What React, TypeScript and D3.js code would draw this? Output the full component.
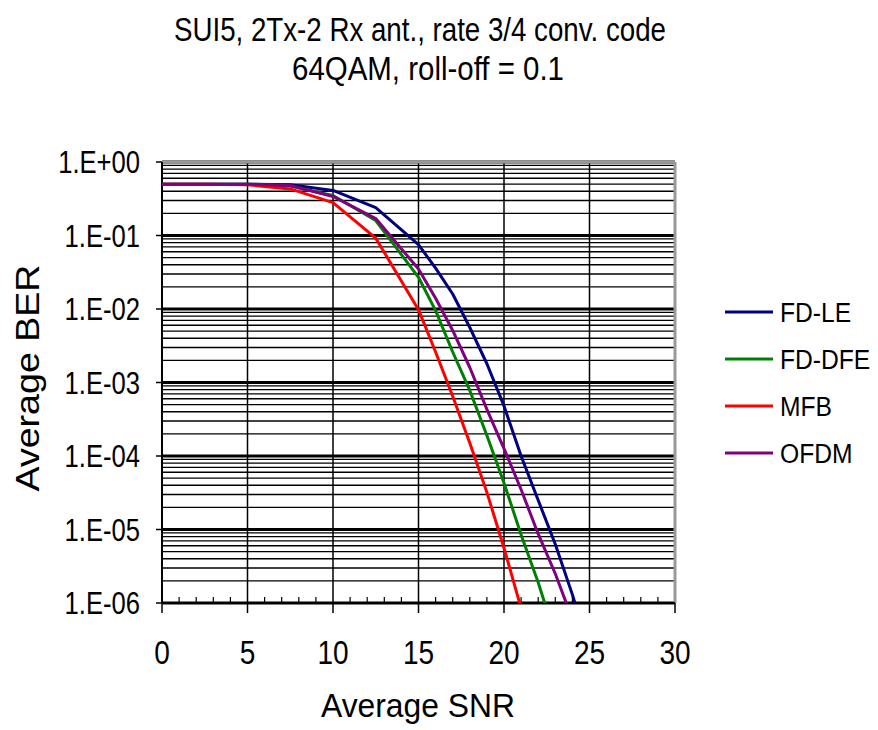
import React from 'react';
import * as d3 from 'd3';

const title1 = 'SUI5, 2Tx-2 Rx ant., rate 3/4 conv. code';
const title2 = '64QAM, roll-off = 0.1';
const xTitle = 'Average SNR';
const yTitle = 'Average BER';

const xTicks = [0, 5, 10, 15, 20, 25, 30];
const yTicks = [1, 1e-1, 1e-2, 1e-3, 1e-4, 1e-5, 1e-6];
const yTickLabels = ['1.E+00', '1.E-01', '1.E-02', '1.E-03', '1.E-04', '1.E-05', '1.E-06'];

const snrLE = [0, 2.5, 5, 7.5, 10, 12.5, 15, 16, 17, 18, 19, 20, 21, 22, 23, 24, 25];
const berLE = [0.5, 0.5, 0.5, 0.49, 0.41, 0.24, 0.075, 0.036, 0.016, 5.6e-3, 1.8e-3, 4.8e-4, 1.0e-4, 2.5e-5, 6.3e-6, 1.3e-6, 2.2e-7];

const snrDFE = [0, 2.5, 5, 7.5, 10, 12.5, 15, 16, 17, 18, 19, 20, 21, 22, 23];
const berDFE = [0.5, 0.5, 0.5, 0.47, 0.35, 0.16, 0.027, 9.5e-3, 2.6e-3, 7.8e-4, 1.9e-4, 4.3e-5, 8.5e-6, 1.9e-6, 3.5e-7];

const snrMFB = [0, 2.5, 5, 7.5, 10, 12.5, 15, 16, 17, 18, 19, 20, 21];
const berMFB = [0.5, 0.5, 0.49, 0.43, 0.28, 0.092, 0.0098, 2.6e-3, 6.5e-4, 1.5e-4, 3.2e-5, 5.6e-6, 8.5e-7];

const snrOFDM = [0, 2.5, 5, 7.5, 10, 12.5, 15, 16, 17, 18, 19, 20, 21, 22, 23, 24];
const berOFDM = [0.5, 0.5, 0.5, 0.48, 0.34, 0.17, 0.035, 0.014, 5.1e-3, 1.6e-3, 4.3e-4, 1.26e-4, 3.5e-5, 8.7e-6, 2.5e-6, 6e-7];

const seriesNames = ['FD-LE', 'FD-DFE', 'MFB', 'OFDM'];
const seriesColors = ['#000080', '#008000', '#ff0000', '#800080'];
const seriesX = [snrLE, snrDFE, snrMFB, snrOFDM];
const seriesY = [berLE, berDFE, berMFB, berOFDM];

const font = 'Liberation Sans, Arial, sans-serif';

export default function App() {
  const left = 162, right = 675, top = 162, bottom = 603;
  const x = d3.scaleLinear().domain([0, 30]).range([left, right]);
  const y = d3.scaleLog().domain([1e-6, 1]).range([bottom, top]);

  const line = d3.line<[number, number]>()
    .x(d => x(d[0]))
    .y(d => y(d[1]));

  const isDecade = (v: number) => Math.abs(Math.log10(v) - Math.round(Math.log10(v))) < 1e-9;
  const hLines = y.ticks();
  const minorX = d3.range(1, 30).filter(v => v % 5 !== 0);

  return (
    <svg width={878} height={730} style={{ position: 'absolute', left: 0, top: 0, background: '#fff' }}>
      <defs>
        <clipPath id="plot">
          <rect x={left} y={top} width={right - left} height={bottom - top} />
        </clipPath>
      </defs>

      <text x={420} y={41} textAnchor="middle" fontFamily={font} fontSize={34}
        textLength={492} lengthAdjust="spacingAndGlyphs">{title1}</text>
      <text x={428} y={80} textAnchor="middle" fontFamily={font} fontSize={34}
        textLength={272} lengthAdjust="spacingAndGlyphs">{title2}</text>

      {/* horizontal grid */}
      {hLines.map((v, i) => (
        <line key={'h' + i} x1={left} x2={right} y1={y(v)} y2={y(v)}
          stroke="#000" strokeWidth={isDecade(v) ? 3 : 1.4} />
      ))}
      {/* vertical grid */}
      {xTicks.slice(1, -1).map(v => (
        <line key={'v' + v} x1={x(v)} x2={x(v)} y1={top} y2={bottom} stroke="#000" strokeWidth={1.5} />
      ))}

      {/* borders */}
      <line x1={left} x2={right} y1={top} y2={top} stroke="#999" strokeWidth={3} />
      <line x1={right} x2={right} y1={top} y2={bottom} stroke="#999" strokeWidth={3} />
      <line x1={left} x2={left} y1={top} y2={bottom} stroke="#000" strokeWidth={2} />
      <line x1={left} x2={right} y1={bottom} y2={bottom} stroke="#000" strokeWidth={2} />

      {/* x ticks */}
      {xTicks.map(v => (
        <line key={'xt' + v} x1={x(v)} x2={x(v)} y1={bottom} y2={bottom + 10} stroke="#000" strokeWidth={1.5} />
      ))}
      {minorX.map(v => (
        <line key={'xm' + v} x1={x(v)} x2={x(v)} y1={bottom - 6} y2={bottom} stroke="#000" strokeWidth={1.2} />
      ))}
      {xTicks.map(v => (
        <g key={'xl' + v} transform={`translate(${x(v)},664) scale(0.85,1)`}>
          <text textAnchor="middle" fontFamily={font} fontSize={33}>{v}</text>
        </g>
      ))}

      {/* y ticks */}
      {yTicks.map((v, i) => (
        <g key={'yl' + i}>
          <line x1={left - 6} x2={left} y1={y(v)} y2={y(v)} stroke="#000" strokeWidth={1.5} />
          <g transform={`translate(140,${y(v) + 11}) scale(0.8,1)`}>
            <text textAnchor="end" fontFamily={font} fontSize={32}>{yTickLabels[i]}</text>
          </g>
        </g>
      ))}

      {/* curves */}
      <g clipPath="url(#plot)">
        {seriesNames.map((name, i) => (
          <path key={name}
            d={line(seriesX[i].map((s, j) => [s, seriesY[i][j]] as [number, number])) || ''}
            fill="none" stroke={seriesColors[i]} strokeWidth={3} strokeLinejoin="round" />
        ))}
      </g>

      {/* axis titles */}
      <text x={418} y={717} textAnchor="middle" fontFamily={font} fontSize={34}
        textLength={194} lengthAdjust="spacingAndGlyphs">{xTitle}</text>
      <text transform="translate(39,378) rotate(-90)" textAnchor="middle" fontFamily={font} fontSize={34}
        textLength={227} lengthAdjust="spacingAndGlyphs">{yTitle}</text>

      {/* legend */}
      {seriesNames.map((name, i) => (
        <g key={'lg' + name} transform={`translate(725,${312 + i * 47})`}>
          <line x1={0} x2={48} y1={0} y2={0} stroke={seriesColors[i]} strokeWidth={3} />
          <g transform="translate(55,10) scale(0.88,1)">
            <text fontFamily={font} fontSize={28}>{name}</text>
          </g>
        </g>
      ))}
    </svg>
  );
}
